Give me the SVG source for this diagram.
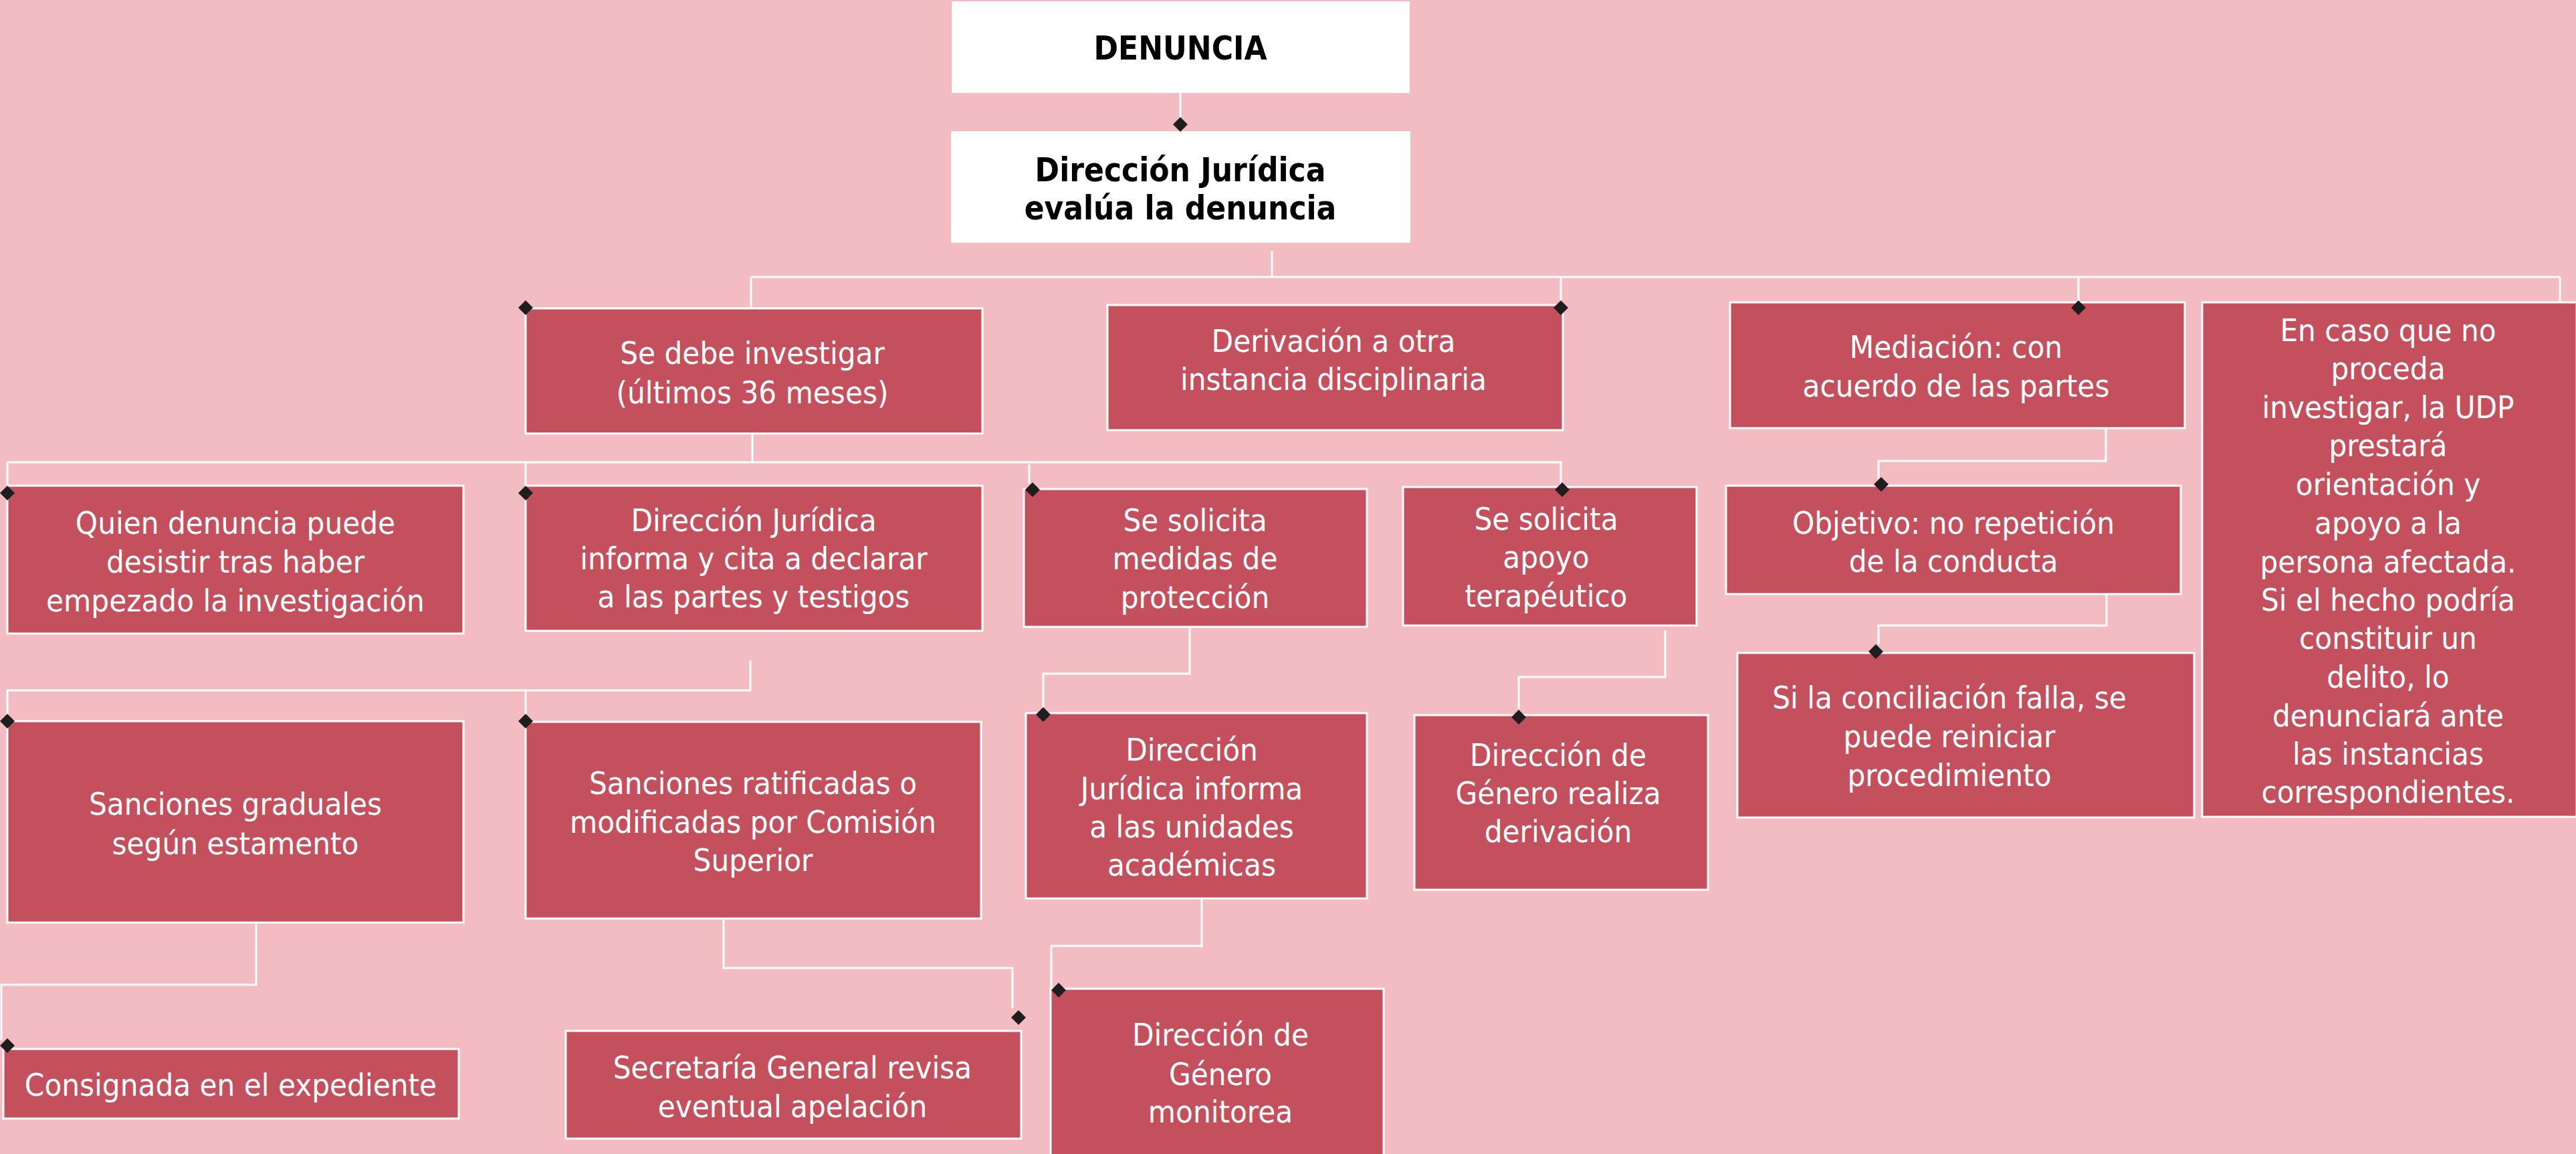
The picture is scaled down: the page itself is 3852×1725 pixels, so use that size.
<svg xmlns="http://www.w3.org/2000/svg" width="3852" height="1725" viewBox="0 0 3852 1725">
<defs>
<style>
.bg{fill:#F3BCC3}
.wb{fill:#FFFFFF;stroke:#FFFFFF;stroke-width:2}
.rb{fill:#C4505E;stroke:#FFFFFF;stroke-width:3}
.t{font-family:"DejaVu Sans Condensed","DejaVu Sans",sans-serif;font-stretch:condensed;font-size:47px;fill:#FFFFFF;text-anchor:middle}
.tb{font-family:"DejaVu Sans Condensed","DejaVu Sans",sans-serif;font-stretch:condensed;font-size:49px;font-weight:bold;fill:#000000;text-anchor:middle}
.ln{fill:none;stroke:#FFFFFF;stroke-width:3}
.dm{fill:#1E1E1E}
</style>
<path id="dia" d="M0,-11 L11,0 L0,11 L-11,0 Z"/>
</defs>
<rect class="bg" x="0" y="0" width="3852" height="1725"/>

<g id="connectors">
<path class="ln" d="M1765,138 V176"/>
<path class="ln" d="M1902,375 V414"/>
<path class="ln" d="M1123,414 H3828"/>
<path class="ln" d="M1123,414 V461"/>
<path class="ln" d="M2334,414 V452"/>
<path class="ln" d="M3108,414 V452"/>
<path class="ln" d="M3828,414 V456"/>
<path class="ln" d="M1125,648 V691"/>
<path class="ln" d="M11,691 H2336"/>
<path class="ln" d="M11,691 V726"/>
<path class="ln" d="M786,691 V726"/>
<path class="ln" d="M1539,694 V723"/>
<path class="ln" d="M2334,691 V726"/>
<path class="ln" d="M1122,987 V1032 H11 V1070"/>
<path class="ln" d="M786,1032 V1070"/>
<path class="ln" d="M383,1379 V1472 H2 V1555"/>
<path class="ln" d="M1082,1373 V1447 H1514 V1507"/>
<path class="ln" d="M1779,937 V1007 H1560 V1058"/>
<path class="ln" d="M2490,942 V1012 H2271 V1060"/>
<path class="ln" d="M1797,1343 V1414 H1572 V1478"/>
<path class="ln" d="M3149,640 V689 H2809 V716"/>
<path class="ln" d="M3150,888 V935 H2809 V963"/>
</g>

<g id="n-denuncia">
<rect class="wb" x="1424" y="3" width="683" height="135"/>
<text class="tb" x="1765" y="89">DENUNCIA</text>
</g>
<g id="n-dj-evalua">
<rect class="wb" x="1423" y="197" width="685" height="165"/>
<text class="tb" x="1765" y="271">Dirección Jurídica</text>
<text class="tb" x="1765" y="328">evalúa la denuncia</text>
</g>
<g id="n-investigar">
<rect class="rb" x="786" y="461" width="683" height="187"/>
<text class="t" x="1125" y="544">Se debe investigar</text>
<text class="t" x="1125" y="603">(últimos 36 meses)</text>
</g>
<g id="n-derivacion">
<rect class="rb" x="1656" y="456" width="681" height="187"/>
<text class="t" x="1994" y="526">Derivación a otra</text>
<text class="t" x="1994" y="583">instancia disciplinaria</text>
</g>
<g id="n-mediacion">
<rect class="rb" x="2587" y="452" width="680" height="188"/>
<text class="t" x="2925" y="535">Mediación: con</text>
<text class="t" x="2925" y="593">acuerdo de las partes</text>
</g>
<g id="n-encaso">
<rect class="rb" x="3293" y="452" width="560" height="769"/>
<text class="t" x="3571" y="510">En caso que no</text>
<text class="t" x="3571" y="567">proceda</text>
<text class="t" x="3571" y="625">investigar, la UDP</text>
<text class="t" x="3571" y="682">prestará</text>
<text class="t" x="3571" y="740">orientación y</text>
<text class="t" x="3571" y="798">apoyo a la</text>
<text class="t" x="3571" y="856">persona afectada.</text>
<text class="t" x="3571" y="913">Si el hecho podría</text>
<text class="t" x="3571" y="970">constituir un</text>
<text class="t" x="3571" y="1028">delito, lo</text>
<text class="t" x="3571" y="1086">denunciará ante</text>
<text class="t" x="3571" y="1143">las instancias</text>
<text class="t" x="3571" y="1200">correspondientes.</text>
</g>
<g id="n-quien">
<rect class="rb" x="11" y="726" width="682" height="221"/>
<text class="t" x="352" y="798">Quien denuncia puede</text>
<text class="t" x="352" y="856">desistir tras haber</text>
<text class="t" x="352" y="914">empezado la investigación</text>
</g>
<g id="n-dj-cita">
<rect class="rb" x="786" y="726" width="683" height="217"/>
<text class="t" x="1127" y="794">Dirección Jurídica</text>
<text class="t" x="1127" y="851">informa y cita a declarar</text>
<text class="t" x="1127" y="908">a las partes y testigos</text>
</g>
<g id="n-medidas">
<rect class="rb" x="1531" y="731" width="513" height="206"/>
<text class="t" x="1787" y="794">Se solicita</text>
<text class="t" x="1787" y="851">medidas de</text>
<text class="t" x="1787" y="909">protección</text>
</g>
<g id="n-apoyo">
<rect class="rb" x="2098" y="728" width="439" height="207"/>
<text class="t" x="2312" y="792">Se solicita</text>
<text class="t" x="2312" y="849">apoyo</text>
<text class="t" x="2312" y="907">terapéutico</text>
</g>
<g id="n-objetivo">
<rect class="rb" x="2581" y="726" width="680" height="162"/>
<text class="t" x="2921" y="798">Objetivo: no repetición</text>
<text class="t" x="2921" y="855">de la conducta</text>
</g>
<g id="n-conciliacion">
<rect class="rb" x="2598" y="976" width="683" height="246"/>
<text class="t" x="2915" y="1059">Si la conciliación falla, se</text>
<text class="t" x="2915" y="1117">puede reiniciar</text>
<text class="t" x="2915" y="1175">procedimiento</text>
</g>
<g id="n-graduales">
<rect class="rb" x="11" y="1078" width="682" height="301"/>
<text class="t" x="352" y="1218">Sanciones graduales</text>
<text class="t" x="352" y="1277">según estamento</text>
</g>
<g id="n-ratificadas">
<rect class="rb" x="786" y="1079" width="681" height="294"/>
<text class="t" x="1126" y="1187">Sanciones ratificadas o</text>
<text class="t" x="1126" y="1245">modificadas por Comisión</text>
<text class="t" x="1126" y="1302">Superior</text>
</g>
<g id="n-dj-unidades">
<rect class="rb" x="1534" y="1066" width="510" height="277"/>
<text class="t" x="1782" y="1137">Dirección</text>
<text class="t" x="1782" y="1195">Jurídica informa</text>
<text class="t" x="1782" y="1252">a las unidades</text>
<text class="t" x="1782" y="1309">académicas</text>
</g>
<g id="n-genero-deriv">
<rect class="rb" x="2115" y="1069" width="439" height="261"/>
<text class="t" x="2330" y="1145">Dirección de</text>
<text class="t" x="2330" y="1202">Género realiza</text>
<text class="t" x="2330" y="1259">derivación</text>
</g>
<g id="n-consignada">
<rect class="rb" x="5" y="1568" width="681" height="104"/>
<text class="t" x="345" y="1638">Consignada en el expediente</text>
</g>
<g id="n-secretaria">
<rect class="rb" x="846" y="1541" width="681" height="161"/>
<text class="t" x="1185" y="1612">Secretaría General revisa</text>
<text class="t" x="1185" y="1670">eventual apelación</text>
</g>
<g id="n-monitorea">
<rect class="rb" x="1571" y="1478" width="498" height="260"/>
<text class="t" x="1825" y="1563">Dirección de</text>
<text class="t" x="1825" y="1622">Género</text>
<text class="t" x="1825" y="1678">monitorea</text>
</g>

<g id="diamonds">
<use href="#dia" class="dm" x="1765" y="186"/>
<use href="#dia" class="dm" x="786" y="460"/>
<use href="#dia" class="dm" x="2334" y="460"/>
<use href="#dia" class="dm" x="3108" y="460"/>
<use href="#dia" class="dm" x="11" y="737"/>
<use href="#dia" class="dm" x="786" y="737"/>
<use href="#dia" class="dm" x="1544" y="732"/>
<use href="#dia" class="dm" x="2336" y="732"/>
<use href="#dia" class="dm" x="2813" y="724"/>
<use href="#dia" class="dm" x="2805" y="974"/>
<use href="#dia" class="dm" x="11" y="1078"/>
<use href="#dia" class="dm" x="786" y="1078"/>
<use href="#dia" class="dm" x="1560" y="1068"/>
<use href="#dia" class="dm" x="2271" y="1072"/>
<use href="#dia" class="dm" x="11" y="1563"/>
<use href="#dia" class="dm" x="1523" y="1521"/>
<use href="#dia" class="dm" x="1583" y="1480"/>
</g>
</svg>
